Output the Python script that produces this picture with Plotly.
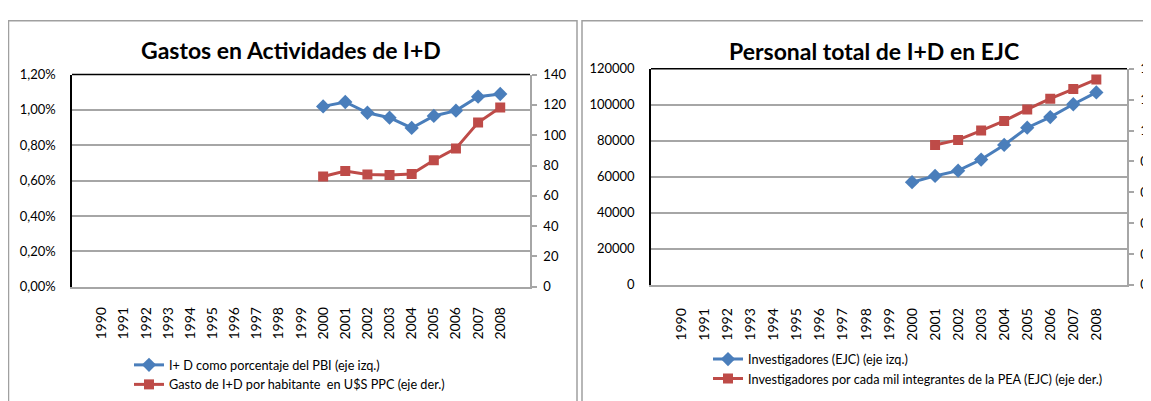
import plotly.graph_objects as go

years = [str(y) for y in range(1990, 2009)]

# Left chart: Gastos en Actividades de I+D
pbi_pct = [None] * 10 + [0.0102, 0.01045, 0.00984, 0.00956, 0.00898, 0.00966, 0.00996, 0.01075, 0.0109]
gasto_hab = [None] * 10 + [72.7, 76.3, 74.1, 73.7, 74.4, 83.5, 91.3, 108.3, 118.3]

# Right chart: Personal total de I+D en EJC
investigadores = [None] * 10 + [57000, 60500, 63400, 69600, 77700, 87300, 93200, 100300, 106900]
inv_por_mil = [None] * 11 + [0.906, 0.939, 1.0, 1.062, 1.137, 1.206, 1.269, 1.331]

left_title = "Gastos en Actividades de I+D"
right_title = "Personal total de I+D en EJC"
leg_left = ["I+ D como porcentaje del PBI (eje izq.)",
            "Gasto de I+D por habitante  en U$S PPC (eje der.)"]
leg_right = ["Investigadores (EJC) (eje izq.)",
             "Investigadores por cada mil integrantes de la PEA (EJC) (eje der.)"]

W, H = 1151, 401
OX, OY = 8, 8  # page body margin offset
BLUE = "#4A7EBB"
RED = "#BE4B48"
GRID = "#A6A6A6"
FONT = "Lato"

def px(x):
    return (x - OX) / W

def py(y):
    return 1 - (y - OY) / H

fig = go.Figure()

fig.add_trace(go.Scatter(x=years, y=pbi_pct, name=leg_left[0], mode="lines+markers",
                         line=dict(color=BLUE, width=3), marker=dict(symbol="diamond", size=11, color=BLUE),
                         xaxis="x", yaxis="y", legend="legend"))
fig.add_trace(go.Scatter(x=years, y=gasto_hab, name=leg_left[1], mode="lines+markers",
                         line=dict(color=RED, width=3), marker=dict(symbol="square", size=10, color=RED),
                         xaxis="x", yaxis="y2", legend="legend"))
fig.add_trace(go.Scatter(x=years, y=investigadores, name=leg_right[0], mode="lines+markers",
                         line=dict(color=BLUE, width=3), marker=dict(symbol="diamond", size=11, color=BLUE),
                         xaxis="x2", yaxis="y3", legend="legend2"))
fig.add_trace(go.Scatter(x=years, y=inv_por_mil, name=leg_right[1], mode="lines+markers",
                         line=dict(color=RED, width=3), marker=dict(symbol="square", size=10, color=RED),
                         xaxis="x2", yaxis="y4", legend="legend2"))

ytickfont = dict(family=FONT, size=13, color="#000000")
xtickfont = dict(family=FONT, size=14, color="#000000")

L = dict(x0=72, x1=530, top=69, bottom=290)
R = dict(x0=651, x1=1127, top=63, bottom=288)

xcommon = dict(type="category", categoryorder="array", categoryarray=years, tickangle=-90,
               showgrid=False, showline=True, linecolor=GRID, linewidth=1.5, ticks="",
               tickfont=xtickfont, zeroline=False, fixedrange=True)

fig.update_layout(
    width=W, height=H, margin=dict(l=0, r=0, t=0, b=0),
    paper_bgcolor="white", plot_bgcolor="white",
    separators=",.",
    font=dict(family=FONT, size=13, color="#000000"),
    xaxis=dict(domain=[px(L["x0"]), px(L["x1"])], anchor="y", ticklabelstandoff=13, **xcommon),
    xaxis2=dict(domain=[px(R["x0"]), px(R["x1"])], anchor="y3", ticklabelstandoff=16, **xcommon),
    yaxis=dict(domain=[py(L["bottom"]), py(L["top"])], anchor="x", range=[0, 0.012], dtick=0.002,
               tickformat=".2%", showgrid=True, gridcolor=GRID, gridwidth=1.5, showline=True,
               linecolor="#000000", linewidth=1.5, ticks="", ticklabelstandoff=12,
               tickfont=ytickfont, zeroline=False),
    yaxis2=dict(overlaying="y", side="right", anchor="x", range=[0, 140], dtick=20, showgrid=False,
                showline=True, linecolor=GRID, linewidth=1.5, ticks="outside", ticklen=5,
                tickcolor=GRID, tickwidth=1.5, ticklabelstandoff=4, tickfont=ytickfont, zeroline=False),
    yaxis3=dict(domain=[py(R["bottom"]), py(R["top"])], anchor="x2", range=[0, 120000], dtick=20000,
                tickformat="d", showgrid=True, gridcolor=GRID, gridwidth=1.5, showline=True,
                linecolor="#000000", linewidth=1.5, ticks="", ticklabelstandoff=12,
                tickfont=ytickfont, zeroline=False),
    yaxis4=dict(overlaying="y3", side="right", anchor="x2", range=[0, 1.4], dtick=0.2, showgrid=False,
                showline=True, linecolor=GRID, linewidth=1.5, ticks="outside", ticklen=5,
                tickcolor=GRID, tickwidth=1.5, ticklabelstandoff=4, tickfont=ytickfont, zeroline=False),
    legend=dict(x=px(129), y=py(356), xanchor="left", yanchor="top", bgcolor="rgba(0,0,0,0)",
                font=dict(family=FONT, size=12.7), itemwidth=30, tracegroupgap=0,
                borderwidth=0, traceorder="normal"),
    legend2=dict(x=px(708), y=py(350), xanchor="left", yanchor="top", bgcolor="rgba(0,0,0,0)",
                 font=dict(family=FONT, size=12.7), itemwidth=30, tracegroupgap=2,
                 borderwidth=0, traceorder="normal"),
    showlegend=True,
)

# chart frames and plot-area top borders
shapes = [
    dict(type="rect", xref="paper", yref="paper", x0=px(8.5), x1=px(577), y0=py(420), y1=py(13),
         line=dict(color="#A0A0A0", width=1.5)),
    dict(type="rect", xref="paper", yref="paper", x0=px(582), x1=px(1170), y0=py(420), y1=py(13),
         line=dict(color="#A0A0A0", width=1.5)),
    dict(type="line", xref="paper", yref="paper", x0=px(L["x0"]), x1=px(L["x1"]), y0=py(L["top"]),
         y1=py(L["top"]), line=dict(color="#000000", width=1.5)),
    dict(type="line", xref="paper", yref="paper", x0=px(R["x0"]), x1=px(R["x1"]), y0=py(R["top"]),
         y1=py(R["top"]), line=dict(color="#000000", width=1.5)),
]
fig.update_layout(shapes=shapes)

fig.add_annotation(text=left_title, xref="paper", yref="paper", x=px(291), y=py(43),
                   xanchor="center", yanchor="middle", showarrow=False,
                   font=dict(family=FONT, size=23, color="#000000", weight="bold"))
fig.add_annotation(text=right_title, xref="paper", yref="paper", x=px(874), y=py(44),
                   xanchor="center", yanchor="middle", showarrow=False,
                   font=dict(family=FONT, size=23, color="#000000", weight="bold"))

fig.write_html("out.html")
